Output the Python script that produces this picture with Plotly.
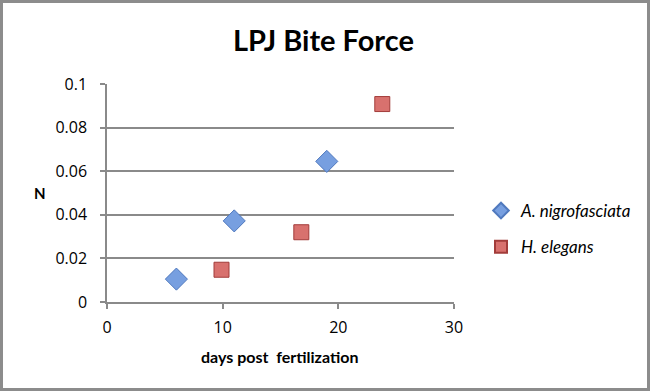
import plotly.graph_objects as go

# Data
a_days = [6, 11, 19]
a_force = [0.0105, 0.0372, 0.0645]
h_days = [9.9, 16.8, 23.8]
h_force = [0.0148, 0.0320, 0.0908]
series_names = ["A. nigrofasciata", "H. elegans"]
x_ticks = [0, 10, 20, 30]
y_ticks = [0, 0.02, 0.04, 0.06, 0.08, 0.1]
y_tick_text = ["0", "0.02", "0.04", "0.06", "0.08", "0.1"]

W, H = 650, 391
ML, MR, MT, MB = 107, 196, 84, 89
PW, PH = W - ML - MR, H - MT - MB
Y0 = H - MB

FONT = "Lato"
TICKFONT = "Open Sans"

fig = go.Figure()
fig.add_trace(go.Scatter(
    x=a_days, y=a_force, mode="markers", name="<i>" + series_names[0] + "</i>",
    legendgroup="a",
    marker=dict(symbol="diamond", size=17, color="#779FE0",
                line=dict(color="#5079BE", width=1)),
))
fig.add_trace(go.Scatter(
    x=h_days, y=h_force, mode="markers", name="<i>" + series_names[1] + "</i>",
    legendgroup="h",
    marker=dict(symbol="square", size=15, color="#D8716E",
                line=dict(color="#A23C3A", width=1)),
))

fig.update_layout(
    width=W, height=H,
    margin=dict(l=ML, r=MR, t=MT, b=MB),
    paper_bgcolor="white", plot_bgcolor="white",
    font=dict(family=FONT, size=15, color="black"),
    showlegend=True,
    legend=dict(x=(481 - ML) / PW, y=(Y0 - 193) / PH, xanchor="left", yanchor="top",
                font=dict(size=17, family=FONT), itemsizing="constant",
                traceorder="grouped", tracegroupgap=11, itemwidth=30,
                bgcolor="rgba(0,0,0,0)"),
    xaxis=dict(range=[0, 30], tickvals=x_ticks, showgrid=False, zeroline=False,
               showline=True, linecolor="#8a8a8a", linewidth=1.5,
               ticks="outside", ticklen=5, tickcolor="#8a8a8a", tickwidth=1.5,
               ticklabelstandoff=5,
               tickfont=dict(size=16, family=TICKFONT)),
    yaxis=dict(range=[0, 0.1], tickvals=y_ticks, ticktext=y_tick_text,
               showgrid=True, gridcolor="#8a8a8a", gridwidth=1.5, zeroline=False,
               showline=True, linecolor="#8a8a8a", linewidth=1.5,
               ticks="outside", ticklen=5, tickcolor="#8a8a8a", tickwidth=1.5,
               ticklabelstandoff=10,
               tickfont=dict(size=16, family=TICKFONT)),
    annotations=[
        dict(text="<b>LPJ Bite Force</b>", xref="paper", yref="paper",
             x=(323 - ML) / PW, y=(Y0 - 39) / PH, xanchor="center", yanchor="middle",
             showarrow=False, font=dict(size=29, family=FONT)),
        dict(text="<b>N</b>", xref="paper", yref="paper",
             x=(40 - ML) / PW, y=(Y0 - 193) / PH, xanchor="center", yanchor="middle",
             showarrow=False, font=dict(size=15, family=FONT)),
        dict(text="<b>days post  fertilization</b>", xref="paper", yref="paper",
             x=(279 - ML) / PW, y=(Y0 - 356) / PH, xanchor="center", yanchor="middle",
             showarrow=False, font=dict(size=16, family=FONT)),
    ],
    shapes=[
        dict(type="rect", xref="paper", yref="paper",
             x0=(1.5 - ML) / PW, x1=(W - 1.5 - ML) / PW,
             y0=(Y0 - (H - 1.5)) / PH, y1=(Y0 - 1.5) / PH,
             line=dict(color="#8c8c8c", width=3), fillcolor="rgba(0,0,0,0)", layer="below"),
    ],
)

fig.write_html("out.html", config={"displayModeBar": False},
               post_script="document.body.style.margin='0';document.body.style.overflow='hidden';")
